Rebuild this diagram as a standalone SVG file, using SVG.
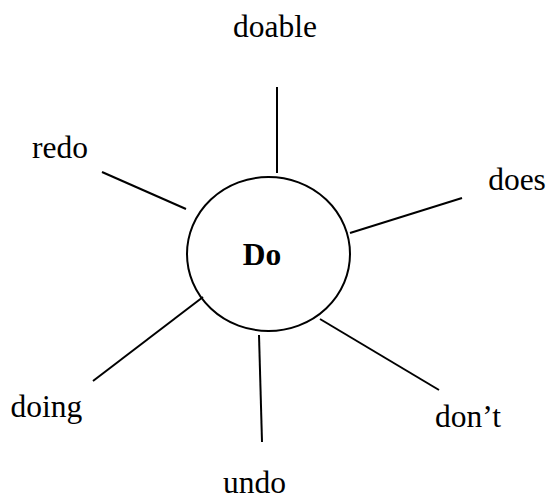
<svg xmlns="http://www.w3.org/2000/svg" width="551" height="499" viewBox="0 0 551 499">
<style>
.l{stroke:#000;stroke-width:2;fill:none}
.t{font-family:"Liberation Serif","Times New Roman",serif;font-size:31.5px;fill:#000}
</style>
<rect width="551" height="499" fill="#fff"/>
<g id="connectors">
<line class="l" x1="277" y1="87" x2="277" y2="173"/>
<line class="l" x1="102" y1="172" x2="186" y2="209"/>
<line class="l" x1="350" y1="233" x2="462" y2="198"/>
<line class="l" x1="93" y1="381" x2="203" y2="297"/>
<line class="l" x1="259" y1="335" x2="262" y2="442"/>
<line class="l" x1="320" y1="319" x2="439" y2="390"/>
</g>
<g id="node-do">
<ellipse class="l" cx="268.5" cy="254" rx="81.5" ry="77"/>
<text class="t" x="262" y="265" text-anchor="middle" font-weight="bold">Do</text>
</g>
<g id="node-doable"><text class="t" x="275" y="37" text-anchor="middle">doable</text></g>
<g id="node-redo"><text class="t" x="60" y="158" text-anchor="middle">redo</text></g>
<g id="node-does"><text class="t" x="517" y="190" text-anchor="middle">does</text></g>
<g id="node-doing"><text class="t" x="46.5" y="417" text-anchor="middle">doing</text></g>
<g id="node-dont"><text class="t" x="468" y="427" text-anchor="middle">don’t</text></g>
<g id="node-undo"><text class="t" x="254.5" y="493" text-anchor="middle">undo</text></g>
</svg>
